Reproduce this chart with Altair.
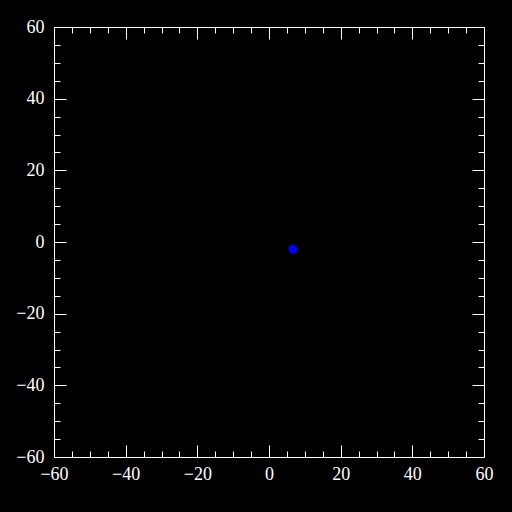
import altair as alt
import pandas as pd
import jinja2

# Data
point_x = [6.7]
point_y = [-2.0]
major_ticks = [-60, -40, -20, 0, 20, 40, 60]
all_ticks = list(range(-60, 61, 5))
domain = [-60, 60]

W = 430
H = 430

df = pd.DataFrame({"x": point_x, "y": point_y})

xs = alt.Scale(domain=domain, nice=False, zero=False)
ys = alt.Scale(domain=domain, nice=False, zero=False)

tick_size = {"condition": {"test": "datum.value % 20 === 0", "value": 12}, "value": 6}

label_common = dict(
    values=major_ticks, ticks=False, domain=False, grid=False,
    labelFont="Liberation Serif", labelFontSize=18, labelColor="white",
    labelFlush=False, labelOverlap=False,
)
tick_common = dict(
    values=all_ticks, labels=False, domain=False, grid=False, ticks=True,
    tickColor="white", tickWidth=1, tickSize=tick_size,
)

base = alt.Chart(df)

layer_a = base.mark_circle(size=80, color="#0000ff", opacity=1).encode(
    x=alt.X("x:Q", scale=xs, title=None,
            axis=alt.Axis(orient="bottom", labelPadding=8, **label_common)),
    y=alt.Y("y:Q", scale=ys, title=None,
            axis=alt.Axis(orient="left", labelPadding=10, **label_common)),
)

layer_b = base.mark_circle(size=80, color="#0000ff", opacity=0).encode(
    x=alt.X("x:Q", scale=xs, title=None,
            axis=alt.Axis(orient="top", offset=-H, **tick_common)),
    y=alt.Y("y:Q", scale=ys, title=None,
            axis=alt.Axis(orient="right", offset=-W, **tick_common)),
)

layer_c = base.mark_circle(size=80, color="#0000ff", opacity=0).encode(
    x=alt.X("x:Q", scale=xs, title=None,
            axis=alt.Axis(orient="bottom", offset=-H, **tick_common)),
    y=alt.Y("y:Q", scale=ys, title=None,
            axis=alt.Axis(orient="left", offset=-W, **tick_common)),
)

chart = (
    alt.layer(layer_a, layer_b, layer_c)
    .resolve_axis(x="independent", y="independent")
    .properties(
        width=W, height=H, background="black",
        padding={"left": 46, "top": 19, "right": 20, "bottom": 40},
        autosize=alt.AutoSizeParams(type="none"),
    )
    .configure_view(stroke="white", strokeWidth=1)
)

PAGE_TEMPLATE = jinja2.Template("""<!DOCTYPE html>
<html>
<head>
  <meta charset="utf-8">
  <style>
    html, body { background: black; }
  </style>
  <script type="text/javascript" src="{{ base_url }}/vega@{{ vega_version }}"></script>
  <script type="text/javascript" src="{{ base_url }}/vega-lite@{{ vegalite_version }}"></script>
  <script type="text/javascript" src="{{ base_url }}/vega-embed@{{ vegaembed_version }}"></script>
</head>
<body>
  <div id="{{ output_div }}"></div>
  <script>
    vegaEmbed("#{{ output_div }}", {{ spec }}, {{ embed_options }}).catch(console.error);
  </script>
</body>
</html>
""")

chart.save("out.html", embed_options={"renderer": "svg", "actions": False},
           template=PAGE_TEMPLATE)
